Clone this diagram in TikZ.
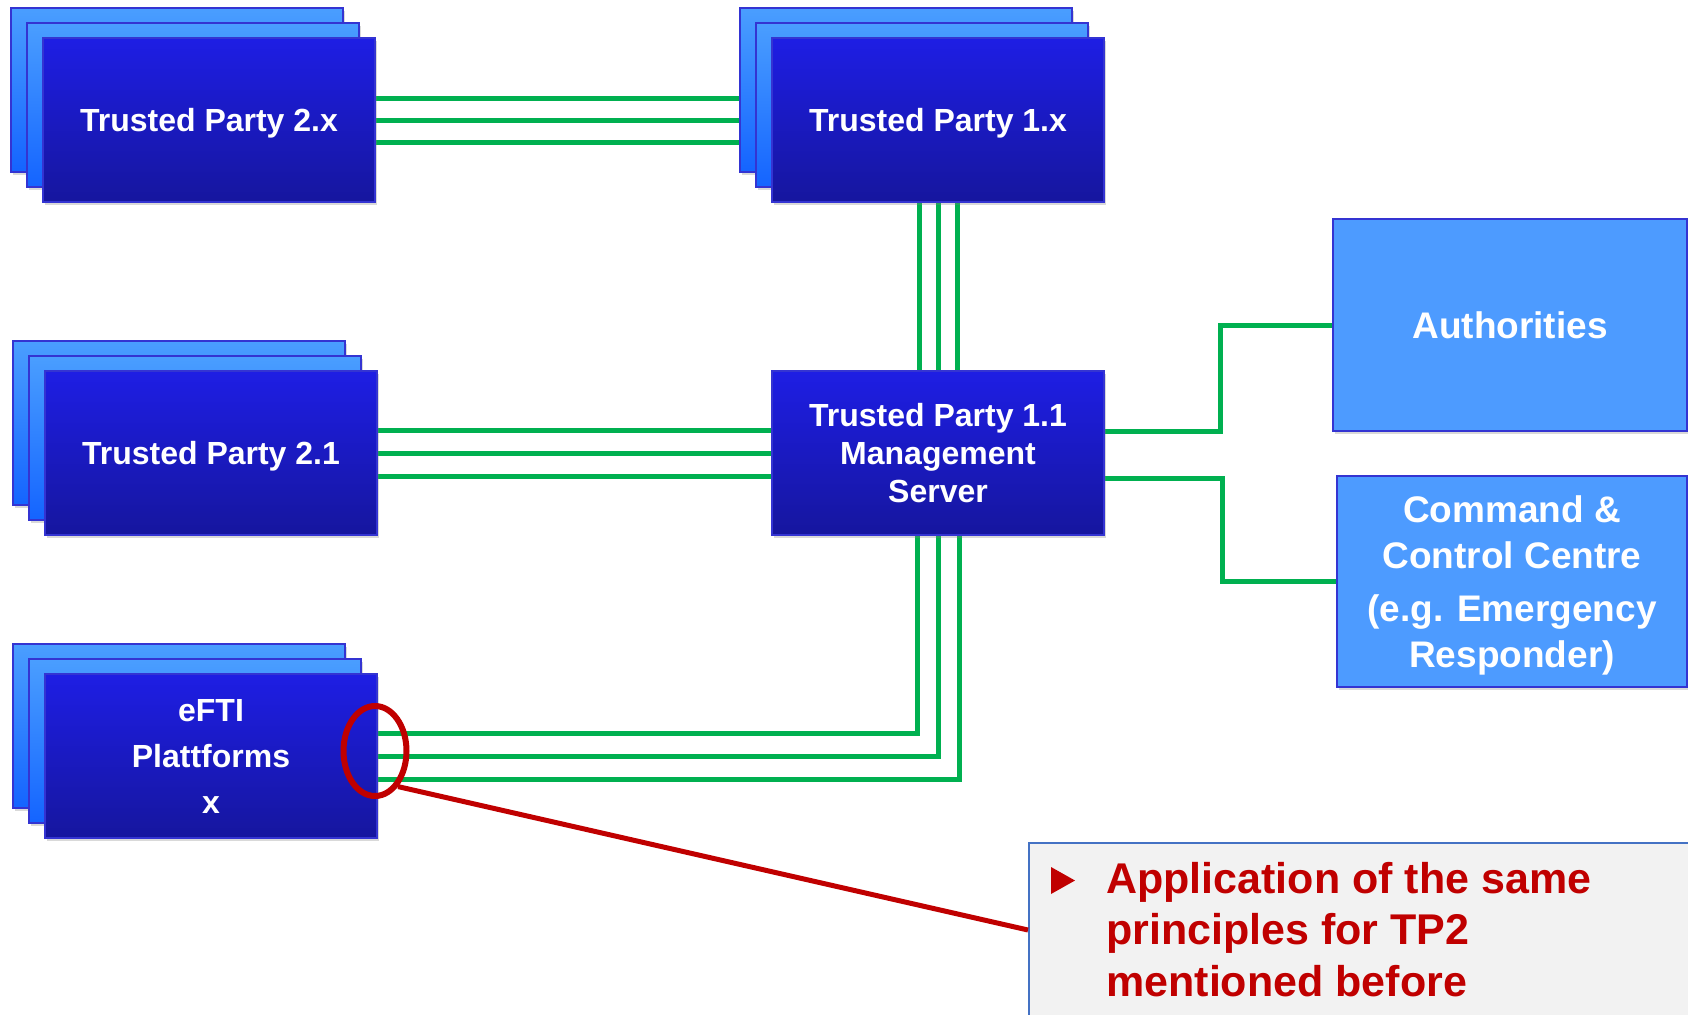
\documentclass[tikz,border=0pt]{standalone}
\usepackage{fontspec}
\setmainfont{Liberation Sans}
\usetikzlibrary{calc,shadows,shapes.geometric}
\pgfdeclarelayer{background}
\pgfsetlayers{background,main}

\definecolor{cardtop}{RGB}{30,30,228}
\definecolor{cardbot}{RGB}{22,22,158}
\definecolor{backtop}{RGB}{74,158,255}
\definecolor{backbot}{RGB}{20,100,255}
\definecolor{cardline}{RGB}{52,52,210}
\definecolor{lightbox}{RGB}{77,155,255}
\definecolor{linkgreen}{RGB}{0,176,80}
\definecolor{alertred}{RGB}{192,0,0}
\definecolor{notefill}{RGB}{242,242,242}
\definecolor{noteline}{RGB}{68,114,196}

% a stack of three cards: name, centre of the front card, extra style, text
\newcommand\cardstack[4]{%
  \node[backcard] (#1-b1) at ($(#2)+(-32,-30)$) {};
  \node[backcard] (#1-b2) at ($(#2)+(-16,-15)$) {};
  \node[frontcard,#3] (#1) at (#2) {#4};}

\begin{document}
\begin{tikzpicture}[x=0.75pt,y=-0.75pt,
  cardshadow/.style={drop shadow={shadow xshift=1.5pt,shadow yshift=-2.5pt,opacity=0.3}},
  frontcard/.style={draw=cardline,line width=1.5pt,top color=cardtop,bottom color=cardbot,
    minimum width=249pt,minimum height=123pt,inner sep=0pt,text=white,text depth=0pt,
    font=\bfseries\fontsize{24}{28.5}\selectfont,align=center,cardshadow},
  backcard/.style={frontcard,top color=backtop,bottom color=backbot},
  lightcard/.style={draw=cardline,line width=1.5pt,fill=lightbox,inner sep=0pt,text=white,
    text depth=0pt,font=\bfseries\fontsize{27.75}{34.1}\selectfont,align=center,cardshadow},
  greenlink/.style={draw=linkgreen,line width=3.75pt}]

\useasboundingbox (0,0) rectangle (1688,1014);

% cards
\cardstack{tp2x}{209,120}{}{Trusted Party 2.x}
\cardstack{tp1x}{938,120}{}{Trusted Party 1.x}
\cardstack{tp21}{211,453}{}{Trusted Party 2.1}
\cardstack{efti}{211,756}{font=\bfseries\fontsize{24}{34.5}\selectfont}{eFTI\\Plattforms\\x}
\node[frontcard] (tp11) at (938,453) {Trusted Party 1.1\\Management\\Server};

\node[lightcard,minimum width=265.5pt,minimum height=159pt] (auth) at (1510,325) {Authorities};
\node[lightcard,minimum width=262.5pt,minimum height=158.25pt] (cmd) at (1512,581.5)
  {Command \&\\Control Centre\\[6.2pt](e.g. Emergency\\Responder)};

% green connections, behind the cards
\begin{pgfonlayer}{background}
  \foreach \d in {-22,0,22}
    \draw[greenlink] ($(tp2x.east)+(0,\d)$) -- ($(tp1x.west)+(0,\d)$);
  \foreach \d in {-19,0,19}
    \draw[greenlink] ($(tp1x.south)+(\d,0)$) -- ($(tp11.north)+(\d,0)$);
  \foreach \d in {-23,0,23}
    \draw[greenlink] ($(tp21.east)+(0,\d)$) -- ($(tp11.west)+(0,\d)$);
  \draw[greenlink] ($(tp11.south)+(-21,0)$) |- ($(efti.east)+(0,-23)$);
  \draw[greenlink] (tp11.south) |- (efti.east);
  \draw[greenlink] ($(tp11.south)+(21,0)$) |- ($(efti.east)+(0,23)$);
  \coordinate (elbowA) at (1220,400);
  \coordinate (elbowC) at (1222,530);
  \draw[greenlink] ($(tp11.east)+(0,-22)$) -| (elbowA) |- (auth.west);
  \draw[greenlink] ($(tp11.east)+(0,25)$) -| (elbowC) |- (cmd.west);
\end{pgfonlayer}

% note box with its callout
\node[draw=noteline,line width=1.2pt,fill=notefill,anchor=north west,
  minimum width=505pt,minimum height=142pt,inner sep=0pt] (note) at (1028,842) {};
\fill[alertred] (1051,867) -- (1075,880.5) -- (1051,894) -- cycle;
\node[anchor=north west,inner sep=0pt,text=alertred,align=left,
  font=\bfseries\fontsize{32.25}{38.6}\selectfont] (notetext) at (1106,862)
  {Application of the same\\principles for TP2\\mentioned before};

\node[draw=alertred,line width=4.5pt,ellipse,minimum width=47.25pt,minimum height=67.5pt,
  inner sep=0pt] (ring) at (375,751) {};
\draw[alertred,line width=3.75pt] (ring.-57) -- ($(note.north west)+(0,88)$);

\end{tikzpicture}
\end{document}
